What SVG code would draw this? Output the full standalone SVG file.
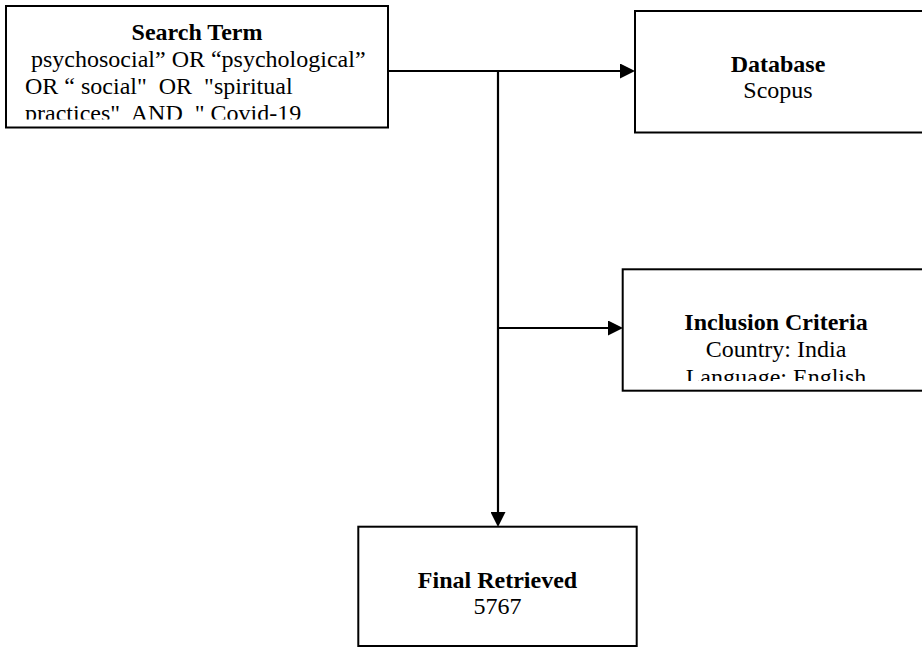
<svg xmlns="http://www.w3.org/2000/svg" width="922" height="648" viewBox="0 0 922 648">
  <style>
    .box { fill: #ffffff; stroke: #000000; stroke-width: 2; }
    .conn { fill: none; stroke: #000000; stroke-width: 2.2; }
    text { font-family: "Liberation Serif", "Times New Roman", serif; font-size: 24px; fill: #000000; }
    .b { font-weight: bold; }
    .c { text-anchor: middle; }
    .pre { white-space: pre; }
  </style>
  <defs>
    <marker id="arrow" markerUnits="userSpaceOnUse" markerWidth="15" markerHeight="15" refX="0" refY="7.5" orient="auto">
      <path d="M0,0 L15,7.5 L0,15 z" fill="#000000"/>
    </marker>
    <clipPath id="clipSearch"><rect x="6" y="6" width="382" height="113.5"/></clipPath>
    <clipPath id="clipIncl"><rect x="623" y="269" width="300" height="112"/></clipPath>
  </defs>

  <g id="connectors">
    <path class="conn" d="M388,71 H620" marker-end="url(#arrow)"/>
    <path class="conn" d="M498,70 V512" marker-end="url(#arrow)"/>
    <path class="conn" d="M498,328 H608" marker-end="url(#arrow)"/>
  </g>

  <g id="search-term">
    <rect class="box" x="6" y="6" width="382" height="121.5"/>
    <g clip-path="url(#clipSearch)">
      <text class="b c" x="197" y="40">Search Term</text>
      <text class="pre" x="25" y="67"> psychosocial” OR “psychological”</text>
      <text class="pre" x="25" y="93.5">OR “ social"  OR  "spiritual</text>
      <text class="pre" x="25" y="120.5">practices"  AND  " Covid-19</text>
    </g>
  </g>

  <g id="database">
    <rect class="box" x="635" y="11" width="292" height="121.5"/>
    <text class="b c" x="778" y="72">Database</text>
    <text class="c" x="778" y="98">Scopus</text>
  </g>

  <g id="inclusion-criteria">
    <rect class="box" x="622.7" y="269.3" width="304" height="121.4"/>
    <g clip-path="url(#clipIncl)">
      <text class="b c" x="776" y="330">Inclusion Criteria</text>
      <text class="c" x="776" y="356.7">Country: India</text>
      <text class="c" x="776" y="384.5">Language: English</text>
    </g>
  </g>

  <g id="final-retrieved">
    <rect class="box" x="358.3" y="526.7" width="278.4" height="119.3"/>
    <text class="b c" x="497.5" y="588.3">Final Retrieved</text>
    <text class="c" x="497.5" y="614">5767</text>
  </g>
</svg>
